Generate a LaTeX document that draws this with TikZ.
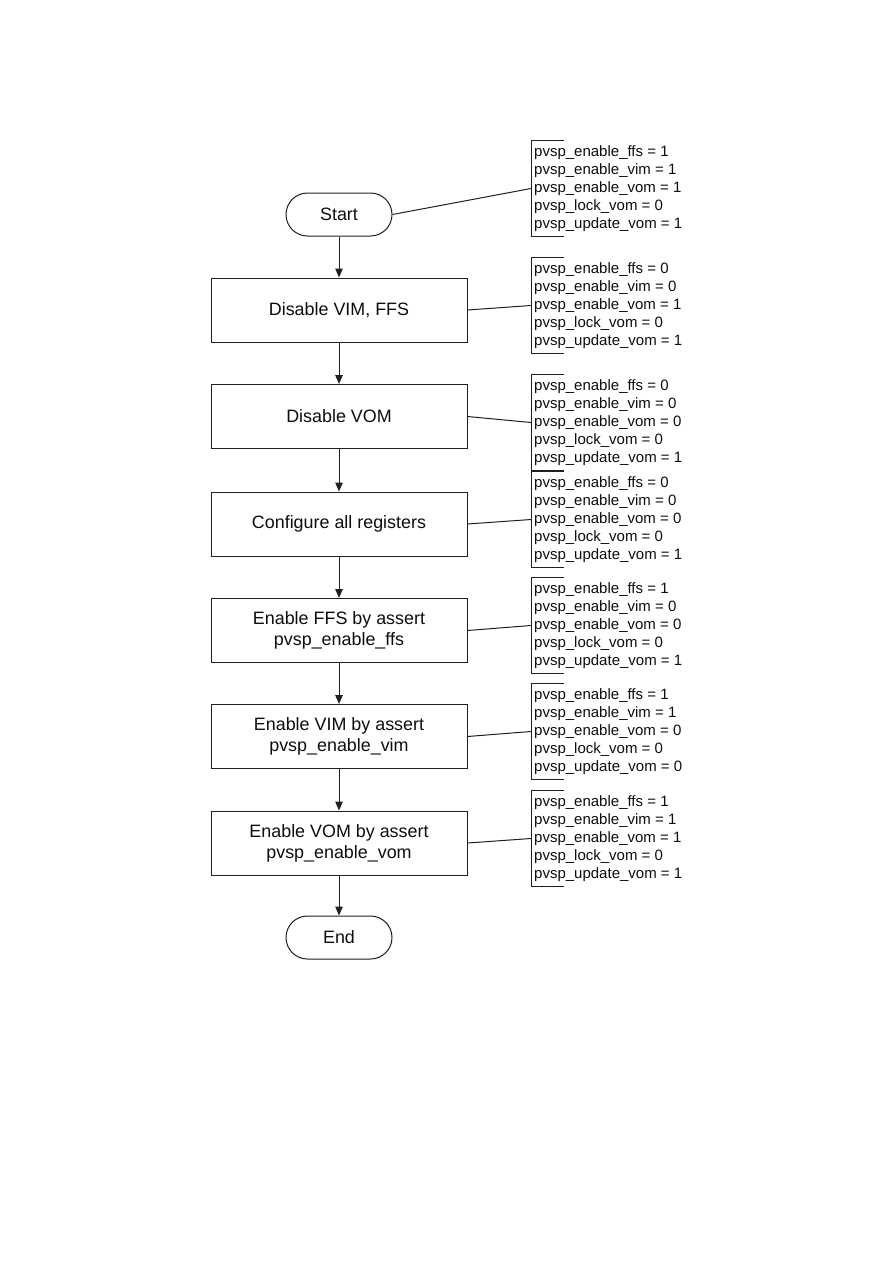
\documentclass[tikz,border=0pt]{standalone}
\usepackage{fontspec}
\setmainfont{Liberation Sans}
\usetikzlibrary{arrows.meta}
\definecolor{lc}{gray}{0.12}
\definecolor{tc}{gray}{0.05}
\begin{document}
\begin{tikzpicture}[x=1pt,y=-1pt,
  proc/.style={draw=lc, line width=1pt, minimum width=256pt, minimum height=64pt, inner sep=0pt, align=center, text=tc, font=\fontsize{17.9}{21}\selectfont},
  term/.style={draw=lc, line width=1pt, rounded corners=21.5pt, minimum width=106pt, minimum height=43pt, inner sep=0pt, text=tc, font=\fontsize{17.9}{21}\selectfont},
  note/.style={anchor=west, align=left, inner xsep=3pt, inner ysep=0pt, minimum height=95pt, text=tc, font=\fontsize{15}{18}\selectfont},
  flow/.style={draw=lc, line width=1pt, -{Triangle[length=9pt,width=7.5pt]}},
  link/.style={draw=lc, line width=1pt},
  brk/.style={draw=lc, line width=1pt}
]
\path[use as bounding box] (0,0) rectangle (893,1263);

\node[term] (start) at (339,214.5) {Start};
\node[proc] (b1) at (339,310) {Disable VIM, FFS};
\node[proc] (b2) at (339,416.5) {Disable VOM};
\node[proc] (b3) at (339,524) {Configure all registers};
\node[proc] (b4) at (339,630.5) {Enable FFS by assert\\pvsp\_enable\_ffs};
\node[proc] (b5) at (339,736.5) {Enable VIM by assert\\pvsp\_enable\_vim};
\node[proc] (b6) at (339,843) {Enable VOM by assert\\pvsp\_enable\_vom};
\node[term] (end) at (339,937.5) {End};

\node[note] (n0) at (531,188.5) {pvsp\_enable\_ffs = 1\\pvsp\_enable\_vim = 1\\pvsp\_enable\_vom = 1\\pvsp\_lock\_vom = 0\\pvsp\_update\_vom = 1};
\node[note] (n1) at (531,305.5) {pvsp\_enable\_ffs = 0\\pvsp\_enable\_vim = 0\\pvsp\_enable\_vom = 1\\pvsp\_lock\_vom = 0\\pvsp\_update\_vom = 1};
\node[note] (n2) at (531,422.5) {pvsp\_enable\_ffs = 0\\pvsp\_enable\_vim = 0\\pvsp\_enable\_vom = 0\\pvsp\_lock\_vom = 0\\pvsp\_update\_vom = 1};
\node[note] (n3) at (531,519.5) {pvsp\_enable\_ffs = 0\\pvsp\_enable\_vim = 0\\pvsp\_enable\_vom = 0\\pvsp\_lock\_vom = 0\\pvsp\_update\_vom = 1};
\node[note] (n4) at (531,625.5) {pvsp\_enable\_ffs = 1\\pvsp\_enable\_vim = 0\\pvsp\_enable\_vom = 0\\pvsp\_lock\_vom = 0\\pvsp\_update\_vom = 1};
\node[note] (n5) at (531,731.5) {pvsp\_enable\_ffs = 1\\pvsp\_enable\_vim = 1\\pvsp\_enable\_vom = 0\\pvsp\_lock\_vom = 0\\pvsp\_update\_vom = 0};
\node[note] (n6) at (531,838.5) {pvsp\_enable\_ffs = 1\\pvsp\_enable\_vim = 1\\pvsp\_enable\_vom = 1\\pvsp\_lock\_vom = 0\\pvsp\_update\_vom = 1};

\foreach \n in {n0,n1,n2,n3,n4,n5,n6}{
  \draw[brk] ([xshift=33pt]\n.north west) -- (\n.north west) -- (\n.south west) -- ([xshift=33pt]\n.south west);
}

\draw[flow] (start) -- (b1);
\draw[flow] (b1) -- (b2);
\draw[flow] (b2) -- (b3);
\draw[flow] (b3) -- (b4);
\draw[flow] (b4) -- (b5);
\draw[flow] (b5) -- (b6);
\draw[flow] (b6) -- (end);

\draw[link] (start.east) -- (n0.west);
\draw[link] (b1.east) -- (n1.west);
\draw[link] (b2.east) -- (n2.west);
\draw[link] (b3.east) -- (n3.west);
\draw[link] (b4.east) -- (n4.west);
\draw[link] (b5.east) -- (n5.west);
\draw[link] (b6.east) -- (n6.west);
\end{tikzpicture}
\end{document}
